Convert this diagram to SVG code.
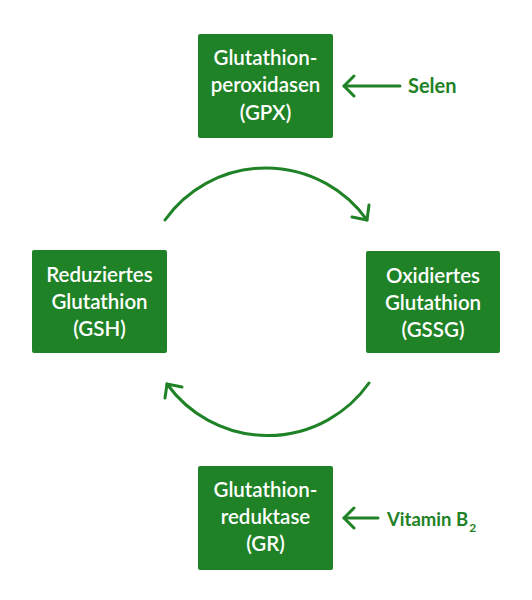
<svg xmlns="http://www.w3.org/2000/svg" width="532" height="600" viewBox="0 0 532 600">
<style>
.box{fill:#1f8226}
.t{font-family:Lato,"Open Sans","DejaVu Sans",sans-serif;font-weight:600;font-size:20.5px;fill:#ffffff;text-anchor:middle}
.lbl{font-family:Lato,"Open Sans","DejaVu Sans",sans-serif;font-weight:700;font-size:20px;fill:#1f8226}
.lbl.sm{font-size:18.5px}
.sub{font-size:12px}
.ln{fill:none;stroke:#1f8226;stroke-width:3;stroke-linecap:round;stroke-linejoin:round}
</style>
<rect width="532" height="600" fill="#ffffff"/>
<g id="gpx">
<rect class="box" x="198" y="34" width="135" height="104" rx="2"/>
<text class="t" x="265.5" y="65">Glutathion-</text>
<text class="t" x="265.5" y="92">peroxidasen</text>
<text class="t" x="265.5" y="120">(GPX)</text>
</g>
<g id="gsh">
<rect class="box" x="32" y="250" width="135" height="103" rx="2"/>
<text class="t" x="99.5" y="282">Reduziertes</text>
<text class="t" x="99.5" y="309">Glutathion</text>
<text class="t" x="99.5" y="336">(GSH)</text>
</g>
<g id="gssg">
<rect class="box" x="366" y="251" width="134" height="102" rx="2"/>
<text class="t" x="433" y="283">Oxidiertes</text>
<text class="t" x="433" y="310">Glutathion</text>
<text class="t" x="433" y="337">(GSSG)</text>
</g>
<g id="gr">
<rect class="box" x="198" y="466" width="135" height="104" rx="2"/>
<text class="t" x="265.5" y="497">Glutathion-</text>
<text class="t" x="265.5" y="524">reduktase</text>
<text class="t" x="265.5" y="551">(GR)</text>
</g>
<g id="selen">
<text class="lbl" x="408" y="93">Selen</text>
</g>
<g id="vitb2">
<text class="lbl sm" x="387" y="526">Vitamin B<tspan class="sub" dx="1" dy="6">2</tspan></text>
</g>
<g id="connectors">
<path class="ln" d="M165 220 A124 124 0 0 1 367 220"/>
<path class="ln" d="M352 217 L367 220 L369 205"/>
<path class="ln" d="M369 383 A124 124 0 0 1 167 384"/>
<path class="ln" d="M165 398 L167 384 L182 387"/>
<path class="ln" d="M400 86 L344 86"/>
<path class="ln" d="M354 76 L344 86 L354 96"/>
<path class="ln" d="M378 518 L344 518"/>
<path class="ln" d="M354 508 L344 518 L354 528"/>
</g>
</svg>
